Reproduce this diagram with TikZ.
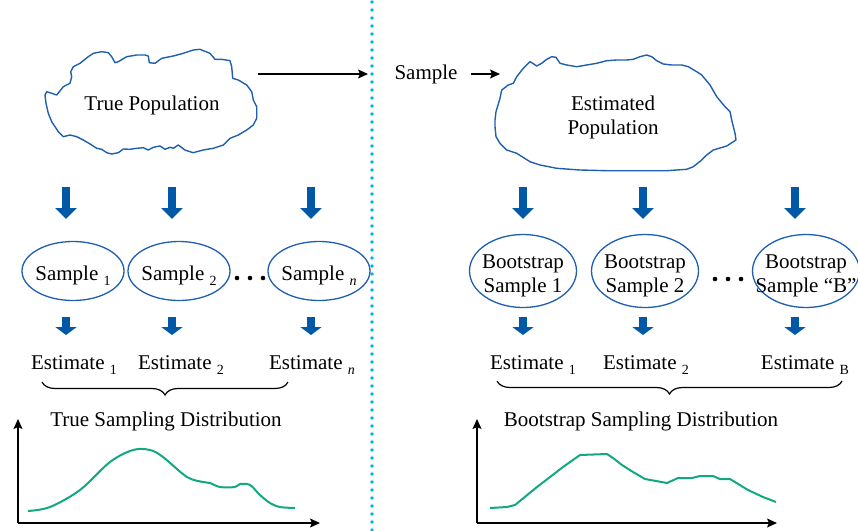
\documentclass[tikz,border=0pt]{standalone}
\usepackage{fontspec}
\setmainfont{Liberation Serif}
\usepackage{xcolor}
\usetikzlibrary{arrows.meta,positioning,shapes.geometric,calc,decorations.pathreplacing}

\definecolor{popblue}{RGB}{31,95,175}
\definecolor{arrblue}{RGB}{0,88,166}
\definecolor{sepcyan}{RGB}{0,178,228}
\definecolor{distgreen}{RGB}{18,168,130}

\newcommand{\lowidx}[1]{\raisebox{-5pt}{\fontsize{14}{14}\selectfont #1}}
\newcommand{\inell}[1]{\makebox[0pt]{\raisebox{-5pt}[\height][\depth]{\begin{tabular}{@{}c@{}}#1\end{tabular}}}}

\begin{document}
\begin{tikzpicture}[
  x=1pt, y=-1pt,
  font=\fontsize{21}{24}\selectfont,
  samp/.style={ellipse, draw=popblue, line width=1.3pt, minimum width=102pt, minimum height=59pt, inner sep=0pt},
  boot/.style={samp, minimum width=107pt, minimum height=73pt},
  cloud/.style={draw=popblue, line width=1.4pt, line join=round},
  arr/.style={-{Stealth[length=10pt,width=9pt,inset=2pt]}, line width=1.2pt},
  bigarr/.style={-{Triangle[length=11pt,width=21pt]}, line width=8pt, arrblue},
  smallarr/.style={-{Triangle[length=8pt,width=21pt]}, line width=8pt, arrblue},
  brc/.style={decorate, decoration={brace, amplitude=13pt}, line width=1.2pt},
  axis/.style={-{Stealth[length=10pt,width=9pt,inset=2pt]}, line width=1.3pt},
  dist/.style={distgreen, line width=2pt, smooth, tension=0.55}
]
\useasboundingbox (0,0) rectangle (858,530);

% separator
\draw[sepcyan, line width=3.6pt, line cap=round, dash pattern=on 0pt off 8pt] (372,2) -- (372,530);

% true population
\draw[cloud] (45,95) -- (46.7,91.7) -- (51.7,93.3) -- (56.7,95) -- (63.3,86.7) -- (70,83.3) -- (71.7,76.7)
  -- (70.7,71.7) -- (73.3,66.7) -- (80,63.3) -- (88.3,56.7) -- (93.3,53.3) -- (101.7,51.7) -- (108.3,52.7)
  -- (111.7,56.7) -- (115,62.7) -- (118.3,61.7) -- (126.7,56.7) -- (136.7,55) -- (145,55) -- (148.3,56)
  -- (149.3,62.7) -- (155,63.3) -- (161.7,58.3) -- (173.3,56) -- (183.3,53.3) -- (193.3,50) -- (200,49.3)
  -- (203.3,50.7) -- (210,53.3) -- (215,59.3) -- (221.7,59.3) -- (230,60.7) -- (231.7,66.7) -- (232.7,78.3)
  -- (238.3,80) -- (246.7,85) -- (251.7,91.7) -- (253.3,100) -- (256.7,106.7) -- (256.7,118.3) -- (253.3,125)
  -- (246.7,130) -- (238.3,135) -- (230,138.3) -- (223.3,145) -- (213.3,148.3) -- (203.3,150) -- (196.7,151.7)
  -- (193.3,152.7) -- (190,151.7) -- (185,150) -- (178.3,145) -- (173.3,148.3) -- (170,147.3) -- (165,149.3)
  -- (160,146) -- (153.3,147.3) -- (148.3,150) -- (143.3,147.7) -- (136.7,148.3) -- (130,149.3) -- (123.3,149)
  -- (118.3,152.7) -- (111.7,154) -- (106.7,152.7) -- (101.7,149.3) -- (96.7,148.3) -- (91.7,145) -- (83.3,140)
  -- (76.7,136.7) -- (70,135) -- (63.3,136.7) -- (58.3,131.7) -- (55,126.7) -- (51.7,121.7) -- (48.3,113.3)
  -- (46,103.3) -- cycle;
\node[anchor=base] (truepop) at (152,110) {True Population};

% estimated population
\draw[cloud] (495,120) -- (496,111.7) -- (500,98.3) -- (501.7,90) -- (508.3,85) -- (513.3,83.3) -- (516.7,76.7)
  -- (523.3,68.3) -- (530,61.7) -- (532.7,63.3) -- (536.7,66) -- (541.7,63.3) -- (546.7,59.3) -- (551.7,56.7)
  -- (556,57.3) -- (560,63.3) -- (566.7,65) -- (576.7,66.7) -- (586.7,65) -- (596.7,63.3) -- (606.7,60.7)
  -- (616.7,60) -- (626.7,60) -- (633.3,59.3) -- (640,56.7) -- (646.7,55) -- (651.7,56.7) -- (656.7,60.7)
  -- (663.3,64) -- (671.7,65) -- (681.7,65) -- (688.3,66.7) -- (696.7,71.7) -- (701.7,75) -- (710,85)
  -- (716.7,96.7) -- (725,106.7) -- (730,111.7) -- (731.7,120) -- (735,133.3) -- (736,140) -- (726.7,146)
  -- (713.3,150) -- (706.7,155) -- (701.7,160) -- (693.3,166.7) -- (686.7,169.3) -- (666.7,170.7)
  -- (636.7,170.7) -- (606.7,170.7) -- (580,170) -- (556.7,168.3) -- (540,165) -- (530,161.7) -- (516.7,153.3)
  -- (506.7,150) -- (500,143.3) -- (496,136.7) -- (495,126.7) -- cycle;
\node[anchor=base, align=center] (estpop) at (613,134) {Estimated\\Population};

% resampling
\coordinate (popout) at (258,74);
\coordinate (split) at (368,74);
\draw[arr] (popout) -- (split);
\node[anchor=base] (smp) at (426,79) {Sample};
\coordinate (estin) at (500,74);
\draw[arr, shorten <=10pt] (smp.east |- estin) -- (estin);

% samples
\node[samp] (s1) at (73,271) {\inell{Sample \lowidx{1}}};
\node[samp] (s2) at (179,271) {\inell{Sample \lowidx{2}}};
\node[samp] (sn) at (319,271) {\inell{Sample \lowidx{\textit{n}}}};
\node[boot] (b1) at (523,271) {\inell{Bootstrap\\Sample 1}};
\node[boot] (b2) at (645,271) {\inell{Bootstrap\\Sample 2}};
\node[boot] (bb) at (806,271) {\inell{Bootstrap\\Sample “B”}};
\foreach \x in {237,250,263} \fill (\x,278) circle (2.3);
\foreach \x in {715,728,741} \fill (\x,279) circle (2.3);

% block arrows
\coordinate (bigtop) at (0,187);
\coordinate (bigend) at (0,219);
\coordinate (smalltop) at (0,317);
\coordinate (smallend) at (0,335);
\foreach \n/\dx in {s1/-7, s2/-7, sn/-8, b1/0, b2/-2, bb/-11} {
  \draw[bigarr] ($(\n |- bigtop)+(\dx,0)$) -- ($(\n |- bigend)+(\dx,0)$);
  \draw[smallarr] ($(\n |- smalltop)+(\dx,0)$) -- ($(\n |- smallend)+(\dx,0)$);
}

% estimates
\node[anchor=base] (e1) at (74,369) {Estimate \lowidx{1}};
\node[anchor=base] (e2) at (181,369) {Estimate \lowidx{2}};
\node[anchor=base] (en) at (312,369) {Estimate \lowidx{\textit{n}}};
\node[anchor=base] (f1) at (533,369) {Estimate \lowidx{1}};
\node[anchor=base] (f2) at (646,369) {Estimate \lowidx{2}};
\node[anchor=base] (fb) at (805,369) {Estimate \lowidx{B}};

% braces
\coordinate (lbr) at (42,382);
\coordinate (rbr) at (288,382);
\draw[brc] (rbr) -- (lbr);
\coordinate (lbr2) at (497,381);
\coordinate (rbr2) at (842,381);
\draw[brc] (rbr2) -- (lbr2);
\node[anchor=base] (truedist) at (166,426) {True Sampling Distribution};
\node[anchor=base] (bootdist) at (641,426) {Bootstrap Sampling Distribution};

% true distribution
\coordinate (o1) at (18,523);
\coordinate (y1) at (18,419);
\coordinate (x1) at (320,523);
\draw[axis] (o1) -- (y1);
\draw[axis] (o1) -- (x1);
\draw[dist] plot coordinates {(28,511) (50,507) (80,490) (110,462) (133,450) (150,450) (163,457) (187,477)
  (203,482) (210,483) (220,487) (235,487) (240,484) (250,485) (260,495) (270,503) (280,507) (295,508)};

% bootstrap distribution
\coordinate (o2) at (477,523);
\coordinate (y2) at (477,419);
\coordinate (x2) at (777,523);
\draw[axis] (o2) -- (y2);
\draw[axis] (o2) -- (x2);
\draw[distgreen, line width=2pt, line join=round] (490,508) -- (507,507) -- (515,505) -- (537,487) -- (563,467)
  -- (580,455) -- (607,454) -- (613,458) -- (622,465) -- (633,472) -- (645,479) -- (667,483) -- (678,478)
  -- (692,478) -- (700,476) -- (713,476) -- (720,479) -- (730,479) -- (748,490) -- (763,497) -- (776,502);
\end{tikzpicture}
\end{document}
